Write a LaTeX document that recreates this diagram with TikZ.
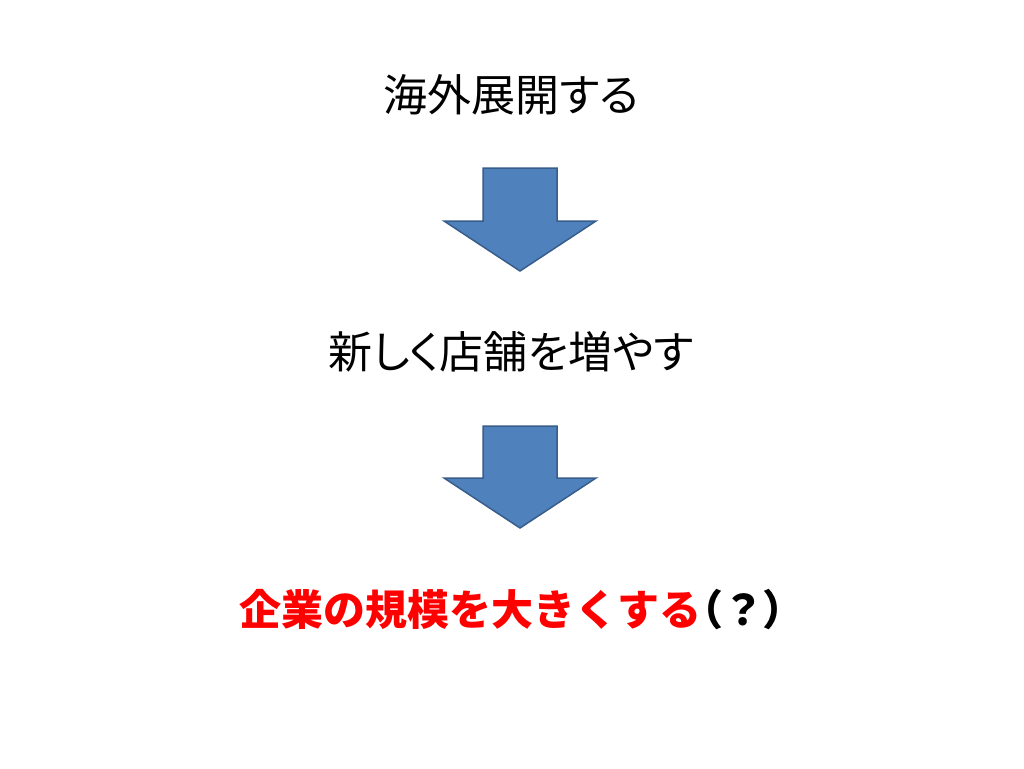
\documentclass[tikz,border=0pt]{standalone}
\usepackage{fontspec}
\newfontfamily\jp{Noto Sans CJK JP}
\newfontfamily\jpp[RawFeature=+palt]{Noto Sans CJK JP}
\definecolor{arrfill}{HTML}{4F81BD}
\definecolor{arrline}{HTML}{385D8A}
\definecolor{redtxt}{HTML}{FF0000}
\begin{document}
\begin{tikzpicture}[x=1pt,y=-1pt,
  label/.style={font=\jpp\fontsize{44}{52}\selectfont, inner sep=0pt, anchor=center},
  downarrow/.style={fill=arrfill, draw=arrline, line width=1.5pt, line join=miter}]
\useasboundingbox[fill=white] (0,0) rectangle (1024,768);
\node[label] (t1) at (511,95) {海外展開する};
\node[label] (t2) at (511,352) {新しく店舗を増やす};
\node[label, font=\jp\fontsize{42}{50}\selectfont] (t3) at (512,610) {\bfseries\textcolor{redtxt}{企業の規模を大きくする}{\jpp\bfseries（}？{\jpp\bfseries）}};
% arrow 1
\draw[downarrow] (483,168) -- (557,168) -- (557,221) -- (596,221) -- (520,271) -- (444,221) -- (483,221) -- cycle;
% arrow 2
\draw[downarrow] (483,426) -- (557,426) -- (557,478) -- (596,478) -- (520,528) -- (444,478) -- (483,478) -- cycle;
\end{tikzpicture}
\end{document}
